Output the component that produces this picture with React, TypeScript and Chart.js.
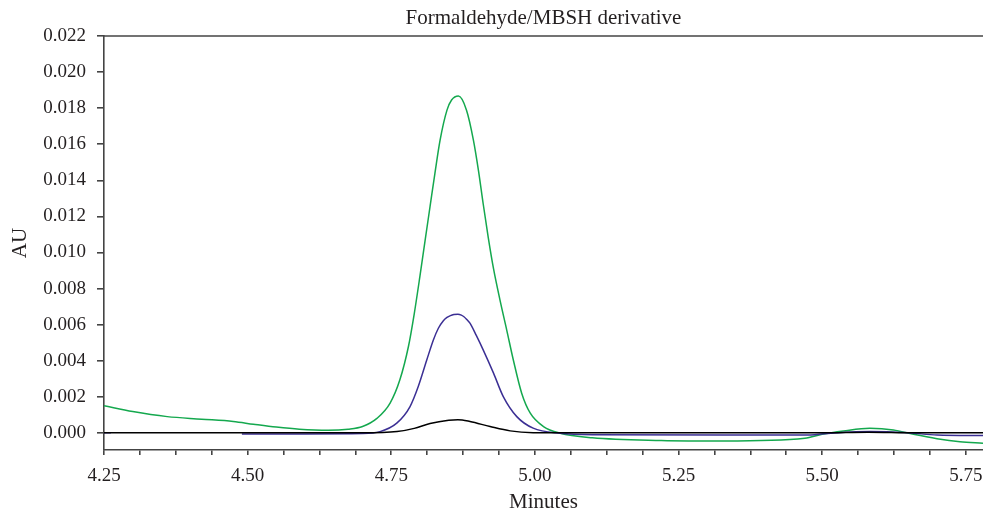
import React, { useEffect, useRef } from "react";
import { Chart, registerables } from "chart.js";

Chart.register(...registerables);

const TITLE = "Formaldehyde/MBSH derivative";
const X_LABEL = "Minutes";
const Y_LABEL = "AU";

const xTickValues = [
  4.25, 4.3125, 4.375, 4.4375, 4.5, 4.5625, 4.625, 4.6875, 4.75, 4.8125, 4.875, 4.9375,
  5.0, 5.0625, 5.125, 5.1875, 5.25, 5.3125, 5.375, 5.4375, 5.5, 5.5625, 5.625, 5.6875, 5.75,
];
const xMajorTicks = [4.25, 4.5, 4.75, 5.0, 5.25, 5.5, 5.75];
const yTickValues = [0, 0.002, 0.004, 0.006, 0.008, 0.01, 0.012, 0.014, 0.016, 0.018, 0.02, 0.022];

const greenX = [
  4.25, 4.3, 4.36, 4.42, 4.475, 4.51, 4.55, 4.59, 4.64, 4.675, 4.7, 4.725, 4.748, 4.765,
  4.78, 4.79, 4.8, 4.809, 4.8175, 4.826, 4.835, 4.847, 4.855, 4.867, 4.881, 4.893, 4.902,
  4.91, 4.919, 4.928, 4.939, 4.951, 4.9625, 4.977, 4.992, 5.015, 5.044, 5.1, 5.22, 5.33,
  5.47, 5.5, 5.537, 5.583, 5.624, 5.659, 5.7, 5.74, 5.78,
];
const greenY = [
  0.00151, 0.00118, 0.0009, 0.00076, 0.00063, 0.00048, 0.00032, 0.0002, 0.00014, 0.0002,
  0.00035, 0.0008, 0.00165, 0.00294, 0.0048, 0.0066, 0.0087, 0.01069, 0.01254, 0.01439,
  0.01623, 0.01789, 0.01845, 0.01867, 0.01789, 0.01623, 0.0145, 0.0127, 0.0108, 0.0091,
  0.0074, 0.0057, 0.00404, 0.0022, 0.00109, 0.00035, -0.00002, -0.00027, -0.00042,
  -0.00045, -0.0003, -0.00008, 0.0001, 0.00025, 0.00016, -0.00008, -0.00032, -0.00049,
  -0.00058,
];

const blueX = [
  4.25, 4.262, 4.37, 4.49, 4.6, 4.7, 4.7305, 4.7596, 4.7827, 4.797, 4.8118, 4.8233, 4.832,
  4.8407, 4.847, 4.853, 4.859, 4.866, 4.872, 4.876, 4.881, 4.887, 4.898, 4.91, 4.928, 4.945,
  4.9685, 4.997, 5.044, 5.1, 5.33, 5.47, 5.51, 5.5835, 5.65, 5.7, 5.78,
];
const blueY = [
  0, 0, null, -0.00006, -0.00006, -0.00004, 0.00007, 0.00054, 0.00146, 0.00257, 0.00404,
  0.00515, 0.0058, 0.00622, 0.0064, 0.0065, 0.00656, 0.00658, 0.00653, 0.00645, 0.0063,
  0.00608, 0.0054, 0.0046, 0.00331, 0.00201, 0.0009, 0.00026, -0.00002, -0.0001, -0.00012,
  -0.00012, -0.00003, 0.00007, 0, -0.00012, -0.00015,
];

const blackX = [
  4.25, 4.7, 4.76, 4.79, 4.8175, 4.85, 4.866, 4.887, 4.922, 4.957, 4.997, 5.05, 5.5, 5.58,
  5.66, 5.78,
];
const blackY = [
  0, 0, 0.00007, 0.00025, 0.00052, 0.0007, 0.00073, 0.00063, 0.00035, 0.00011, 0.00001, 0, 0,
  0.00004, 0, 0,
];

const FONT = "'Liberation Serif', 'Times New Roman', serif";
const TEXT = "#231f20";
const AXIS = "#444444";

const pairs = (xs: number[], ys: (number | null)[]) => xs.map((x, i) => ({ x, y: ys[i] }));

const topBorder = {
  id: "topBorder",
  afterDraw(chart: any) {
    const { ctx, chartArea } = chart;
    ctx.save();
    ctx.strokeStyle = AXIS;
    ctx.lineWidth = 1.6;
    ctx.beginPath();
    ctx.moveTo(chartArea.left, chartArea.top);
    ctx.lineTo(chartArea.right, chartArea.top);
    ctx.stroke();
    ctx.restore();
  },
};

export default function App() {
  const ref = useRef<HTMLCanvasElement | null>(null);

  useEffect(() => {
    if (!ref.current) return;
    const chart = new Chart(ref.current, {
      type: "line",
      data: {
        datasets: [
          {
            label: "black",
            data: pairs(blackX, blackY),
            borderColor: "#000000",
            borderWidth: 1.5,
            pointRadius: 0,
            cubicInterpolationMode: "monotone",
            fill: false,
          },
          {
            label: "blue",
            data: pairs(blueX, blueY),
            borderColor: "#3b2f94",
            borderWidth: 1.5,
            pointRadius: 0,
            cubicInterpolationMode: "monotone",
            spanGaps: false,
            fill: false,
          },
          {
            label: "green",
            data: pairs(greenX, greenY),
            borderColor: "#14a84e",
            borderWidth: 1.5,
            pointRadius: 0,
            cubicInterpolationMode: "monotone",
            fill: false,
          },
        ],
      },
      options: {
        animation: false,
        responsive: true,
        maintainAspectRatio: false,
        layout: { padding: 0 },
        plugins: {
          legend: { display: false },
          tooltip: { enabled: false },
          title: {
            display: true,
            fullSize: false,
            text: TITLE,
            color: TEXT,
            font: { family: FONT, size: 21, weight: "normal", lineHeight: 1.2 },
            padding: { top: 5.4, bottom: 5.4 },
          },
        },
        scales: {
          x: {
            type: "linear",
            min: 4.25,
            max: 5.78,
            afterFit: (s: any) => {
              s.height = 60;
              s.paddingLeft = 0;
              s.paddingRight = 0;
            },
            afterBuildTicks: (s: any) => {
              s.ticks = xTickValues.map((v) => ({ value: v }));
            },
            ticks: {
              autoSkip: false,
              maxRotation: 0,
              padding: 10,
              color: TEXT,
              font: { family: FONT, size: 19 },
              callback: (v: any) => {
                const n = Number(v);
                return xMajorTicks.some((m) => Math.abs(m - n) < 1e-6) ? n.toFixed(2) : "";
              },
            },
            grid: {
              display: true,
              drawOnChartArea: false,
              drawTicks: true,
              tickLength: 5,
              color: AXIS,
              lineWidth: 1.6,
            },
            border: { display: true, color: AXIS, width: 1.6 },
            title: {
              display: true,
              text: X_LABEL,
              color: TEXT,
              font: { family: FONT, size: 21, lineHeight: 0.75 },
              padding: { top: 0, bottom: 0 },
            },
          },
          y: {
            type: "linear",
            min: -0.00095,
            max: 0.022,
            afterFit: (s: any) => {
              s.width = 104;
            },
            afterBuildTicks: (s: any) => {
              s.ticks = yTickValues.map((v) => ({ value: v }));
            },
            ticks: {
              autoSkip: false,
              padding: 11,
              color: TEXT,
              font: { family: FONT, size: 19 },
              callback: (v: any) => Number(v).toFixed(3),
            },
            grid: {
              display: true,
              drawOnChartArea: false,
              drawTicks: true,
              tickLength: 7,
              color: AXIS,
              lineWidth: 1.6,
            },
            border: { display: true, color: AXIS, width: 1.6 },
            title: {
              display: true,
              text: Y_LABEL,
              color: TEXT,
              font: { family: FONT, size: 21, lineHeight: 1.0 },
              padding: { top: 10, bottom: 0 },
            },
          },
        },
      },
      plugins: [topBorder],
    });
    return () => chart.destroy();
  }, []);

  return (
    <div style={{ position: "fixed", left: 0, top: 0, width: 983, height: 510, background: "#fff" }}>
      <canvas ref={ref} />
    </div>
  );
}
